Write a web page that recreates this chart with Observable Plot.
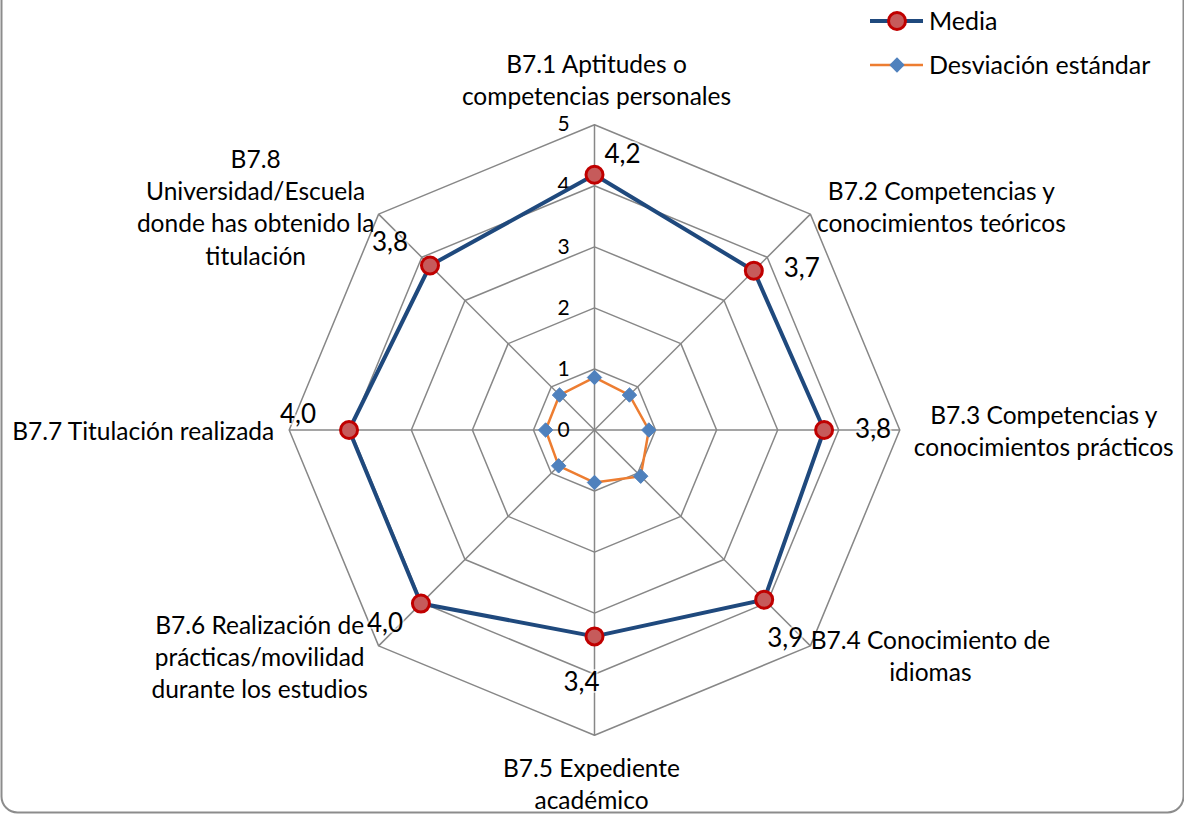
<!DOCTYPE html>
<html><head><meta charset="utf-8">
<script src="https://cdn.jsdelivr.net/npm/d3@7"></script>
<script src="https://cdn.jsdelivr.net/npm/@observablehq/plot@0.6"></script>
<style>
body{margin:0;background:#fff;}
#wrap{position:relative;width:1184px;height:814px;overflow:hidden;font-family:Lato,sans-serif;}
#legend{position:absolute;left:860px;top:0px;}
</style></head><body><div id="wrap"><div id="chart"></div><div id="legend"></div></div>
<script>
// ---- data ----
const categories = [
  "B7.1 Aptitudes o\ncompetencias personales",
  "B7.2 Competencias y\nconocimientos teóricos",
  "B7.3 Competencias y\nconocimientos prácticos",
  "B7.4 Conocimiento de\nidiomas",
  "B7.5 Expediente\nacadémico",
  "B7.6 Realización de\nprácticas/movilidad\ndurante los estudios",
  "B7.7 Titulación realizada",
  "B7.8\nUniversidad/Escuela\ndonde has obtenido la\ntitulación"
];
const media = [4.18, 3.69, 3.76, 3.93, 3.38, 4.02, 4.02, 3.81];
const desv  = [0.86, 0.81, 0.89, 1.07, 0.86, 0.83, 0.80, 0.81];
const ticks = [0, 1, 2, 3, 4, 5];
const seriesNames = ["Media", "Desviación estándar"];

// ---- geometry ----
const W = 1184, H = 814, cx = 594, cy = 429.5, u = 61.06;
const n = categories.length;
const rMax = d3.max(ticks);
const ang = i => i * 2 * Math.PI / n;
const pt = (i, r) => ({x: r * Math.sin(ang(i)), y: r * Math.cos(ang(i))});
const closed = vals => d3.range(n + 1).map(j => ({...pt(j % n, vals[j % n]), v: vals[j % n], i: j % n}));
const rings = ticks.slice(1).flatMap(k => d3.range(n + 1).map(j => ({...pt(j % n, k), k})));
const spokes = d3.range(n).map(i => ({i, ...pt(i, rMax)}));
const fmt = v => d3.format(".1f")(v).replace(".", ",");

const catOff = [[2,-46],[131,-8],[144,0],[120,9],[-3,47],[-119,10],[-146,0],[-123,-8]];
const valOff = [[28,-20],[48,-2],[49,0],[21,39],[-13,46],[-36,20],[-51,-15],[-40,-23]];

const mediaPts = closed(media);
const desvPts = closed(desv);

const gridColor = "#878787";
const chart = Plot.plot({
  width: W, height: H, margin: 0,
  x: {domain: [-cx / u, (W - cx) / u], axis: null},
  y: {domain: [-(H - cy) / u, cy / u], axis: null},
  style: {fontFamily: "Lato, sans-serif", background: "transparent"},
  marks: [
    Plot.frame({rx: 16, stroke: "#8c8c8c", strokeWidth: 2, insetTop: -30, insetLeft: 1, insetRight: 1, insetBottom: 2}),
    Plot.line(rings, {x: "x", y: "y", z: "k", stroke: gridColor, strokeWidth: 1.5}),
    Plot.link(spokes, {x1: 0, y1: 0, x2: "x", y2: "y", stroke: gridColor, strokeWidth: 1.5}),
    Plot.text(ticks, {x: 0, y: d => d, text: d => String(d), dx: -31, fontSize: 21, fill: "#000"}),
    Plot.line(desvPts, {x: "x", y: "y", stroke: "#ED7D31", strokeWidth: 2.5}),
    Plot.dot(desvPts.slice(0, n), {x: "x", y: "y", symbol: "diamond2", r: 6.5, fill: "#4F81BD", stroke: "#4F81BD", strokeWidth: 1}),
    Plot.line(mediaPts, {x: "x", y: "y", stroke: "#1F497D", strokeWidth: 4}),
    Plot.dot(mediaPts.slice(0, n), {x: "x", y: "y", r: 8.5, fill: "#C65B5B", stroke: "#C00000", strokeWidth: 3}),
    ...mediaPts.slice(0, n).map((d, i) => Plot.text([d], {x: "x", y: "y", text: d => fmt(d.v), dx: valOff[i][0], dy: valOff[i][1], fontSize: 26, fill: "#000", stroke: "white", strokeOpacity: 0.6, strokeWidth: 4, paintOrder: "stroke"})),
    ...spokes.map((d, i) => Plot.text([d], {x: "x", y: "y", text: () => categories[i], dx: catOff[i][0], dy: catOff[i][1], fontSize: 24.5, lineHeight: 1.31, textAnchor: "middle", fill: "#000"}))
  ]
});
document.getElementById("chart").appendChild(chart);

// ---- legend ----
const lg = d3.select("#legend").append("svg").attr("width", 324).attr("height", 90);
const rows = [
  {name: seriesNames[0], y: 21, line: "#1F497D", lw: 4},
  {name: seriesNames[1], y: 65, line: "#ED7D31", lw: 2.5}
];
rows.forEach((r, k) => {
  lg.append("line").attr("x1", 10).attr("x2", 63).attr("y1", r.y).attr("y2", r.y).attr("stroke", r.line).attr("stroke-width", r.lw);
  if (k === 0) lg.append("circle").attr("cx", 37).attr("cy", r.y).attr("r", 8.5).attr("fill", "#C65B5B").attr("stroke", "#C00000").attr("stroke-width", 3);
  else lg.append("path").attr("d", d3.symbol(d3.symbolDiamond2, 150)()).attr("transform", `translate(37,${r.y})`).attr("fill", "#4F81BD");
  lg.append("text").attr("x", 69).attr("y", r.y).attr("dy", "0.35em").attr("font-family", "Lato, sans-serif").attr("font-size", 25).text(r.name);
});
</script></body></html>
